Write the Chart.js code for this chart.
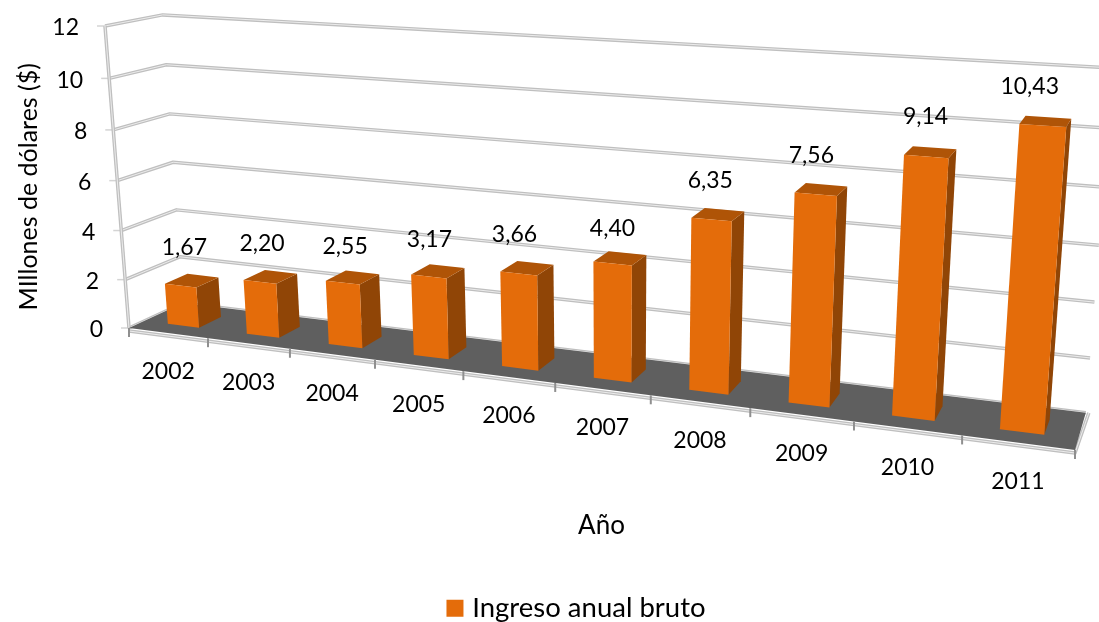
<!DOCTYPE html>
<html>
<head>
<meta charset="utf-8">
<script src="https://cdn.jsdelivr.net/npm/chart.js@4"></script>
<style>
  html, body { margin: 0; padding: 0; background: #fff; }
  #wrap { width: 1099px; height: 622px; }
</style>
</head>
<body>
<div id="wrap"><canvas id="myChart"></canvas></div>
<script>
const years = ['2002', '2003', '2004', '2005', '2006', '2007', '2008', '2009', '2010', '2011'];
const ingresos = [1.67, 2.20, 2.55, 3.17, 3.66, 4.40, 6.35, 7.56, 9.14, 10.43];
const seriesName = 'Ingreso anual bruto';

const orange = '#E46C0A', orangeSide = '#904506', orangeTop = '#AF5407';
const FONT = 23;

// ajuste fino de las etiquetas de valor respecto a la barra
const labelDx = [-8, -9, -8, -9, -13, -8, -8, -10, -5, -16];
const labelDy = [-33, -33, -31, -31, -33, -29, -34, -34, -35, -35];

// esquinas de la caja 3D en pantalla y pesos de perspectiva (eje u, v, z)
const O = [129, 328], U = [1075, 450], V = [105, 26], Z = [183, 303];
const wU = -0.18, wV = -0.047, wZ = 0.05;
const A = [0, 1].map(i => U[i] * (1 + wU) - O[i]);
const B = [0, 1].map(i => V[i] * (1 + wV) - O[i]);
const C = [0, 1].map(i => Z[i] * (1 + wZ) - O[i]);
function proj(u, v, z) {
  const w = 1 + wU * u + wV * v + wZ * z;
  return [0, 1].map(i => (O[i] + u * A[i] + v * B[i] + z * C[i]) / w);
}

function poly(ctx, pts, fill) {
  ctx.beginPath();
  pts.forEach((p, i) => i ? ctx.lineTo(p[0], p[1]) : ctx.moveTo(p[0], p[1]));
  ctx.closePath();
  ctx.fillStyle = fill;
  ctx.fill();
}

function gridLine(ctx, pts) {
  ctx.beginPath();
  pts.forEach((p, i) => i ? ctx.lineTo(p[0], p[1]) : ctx.moveTo(p[0], p[1]));
  ctx.lineJoin = 'round';
  ctx.strokeStyle = '#bfbfbf';
  ctx.lineWidth = 3.5;
  ctx.stroke();
  ctx.strokeStyle = '#ececec';
  ctx.lineWidth = 1;
  ctx.stroke();
}

const box3d = {
  id: 'box3d',
  afterLayout(chart) {
    // la leyenda va a la derecha del centro y pegada abajo
    chart.legend.left += 41;
    chart.legend.right += 41;
    chart.legend.top += 10;
    chart.legend.bottom += 10;
  },
  beforeDatasetsDraw(chart) {
    const ctx = chart.ctx, ca = chart.chartArea, x = chart.scales.x, y = chart.scales.y;
    const vn = val => (ca.bottom - y.getPixelForValue(val)) / (ca.bottom - ca.top);
    ctx.save();

    // paredes
    y.ticks.forEach(t => {
      const v = vn(t.value);
      const a = proj(0, v, 0);
      gridLine(ctx, [a, proj(0, v, 1), proj(1, v, 1)]);
      ctx.strokeStyle = '#d4d4d4';
      ctx.lineWidth = 1.5;
      ctx.beginPath();
      ctx.moveTo(a[0] - 8, a[1]);
      ctx.lineTo(a[0], a[1]);
      ctx.stroke();
      ctx.fillStyle = '#000';
      ctx.font = FONT + 'px Lato';
      ctx.textAlign = 'right';
      ctx.textBaseline = 'middle';
      ctx.fillText(t.label, a[0] - 26, a[1] + 2);
    });
    gridLine(ctx, [proj(0, 0, 0), proj(0, 1, 0)]);

    // piso
    const f0 = proj(0, 0, 0), f1 = proj(1, 0, 0), f2 = proj(1, 0, 1), f3 = proj(0, 0, 1);
    gridLine(ctx, [[f0[0], f0[1] + 3], [f1[0], f1[1] + 3], [f2[0] + 3, f2[1]]]);
    poly(ctx, [f0, f1, f2, f3], '#5F5F5F');

    // marcas y años
    const step = (x.getPixelForValue(1) - x.getPixelForValue(0));
    ctx.strokeStyle = '#8f8f8f';
    ctx.lineWidth = 2;
    for (let i = 0; i <= years.length; i++) {
      const u = (x.getPixelForValue(i) - step / 2 - ca.left) / (ca.right - ca.left);
      const p = proj(u, 0, 0);
      ctx.beginPath();
      ctx.moveTo(p[0], p[1]);
      ctx.lineTo(p[0], p[1] + 9);
      ctx.stroke();
    }
    ctx.fillStyle = '#000';
    ctx.font = FONT + 'px Lato';
    ctx.textAlign = 'center';
    ctx.textBaseline = 'middle';
    years.forEach((yr, i) => {
      const u = (x.getPixelForValue(i) - ca.left) / (ca.right - ca.left);
      const p = proj(u, 0, 0);
      ctx.fillText(yr, p[0], p[1] + 39);
    });
    ctx.restore();
  },
  beforeDatasetDraw() {
    return false;
  },
  afterDatasetsDraw(chart) {
    const ctx = chart.ctx, ca = chart.chartArea;
    const W = ca.right - ca.left, H = ca.bottom - ca.top;
    const z0 = 0.28, z1 = 0.7;
    ctx.save();
    chart.getDatasetMeta(0).data.forEach((el, i) => {
      const u0 = (el.x - el.width / 2 - ca.left) / W, u1 = (el.x + el.width / 2 - ca.left) / W;
      const v = (ca.bottom - el.y) / H;
      poly(ctx, [proj(u1, 0, z0), proj(u1, 0, z1), proj(u1, v, z1), proj(u1, v, z0)], orangeSide);
      poly(ctx, [proj(u0, v, z0), proj(u1, v, z0), proj(u1, v, z1), proj(u0, v, z1)], orangeTop);
      poly(ctx, [proj(u0, 0, z0), proj(u1, 0, z0), proj(u1, v, z0), proj(u0, v, z0)], orange);
      const p = proj((el.x - ca.left) / W, v, 0.5);
      ctx.fillStyle = '#000';
      ctx.font = FONT + 'px Lato';
      ctx.textAlign = 'center';
      ctx.textBaseline = 'middle';
      ctx.fillText(ingresos[i].toFixed(2).replace('.', ','), p[0] + labelDx[i], p[1] + labelDy[i]);
    });
    ctx.restore();
  }
};

Chart.defaults.font.family = 'Lato';
Chart.defaults.color = '#000';

new Chart(document.getElementById('myChart'), {
  type: 'bar',
  data: {
    labels: years,
    datasets: [{
      label: seriesName,
      data: ingresos,
      backgroundColor: orange,
      borderColor: orange,
      borderWidth: 10,
      categoryPercentage: 1,
      barPercentage: 0.4
    }]
  },
  options: {
    responsive: true,
    maintainAspectRatio: false,
    animation: false,
    layout: { padding: { top: 27, right: 24, left: 0, bottom: 0 } },
    scales: {
      x: {
        grid: { display: false },
        border: { display: false },
        ticks: { display: false },
        title: { display: true, text: 'Año', font: { size: 26 }, padding: { top: 0, bottom: 37 } },
        afterFit(scale) { scale.height = 232; }
      },
      y: {
        min: 0,
        max: 12,
        grid: { display: false },
        border: { display: false },
        ticks: { display: false, stepSize: 2 },
        title: { display: true, text: 'MIllones de dólares ($)', font: { size: 25 }, padding: { top: 14, bottom: 0 } },
        afterFit(scale) { scale.width = 128; }
      }
    },
    plugins: {
      legend: {
        position: 'bottom',
        labels: { boxWidth: 7, boxHeight: 7, font: { size: 27.5 }, padding: 6 }
      },
      tooltip: { enabled: false }
    }
  },
  plugins: [box3d]
});
</script>
</body>
</html>
